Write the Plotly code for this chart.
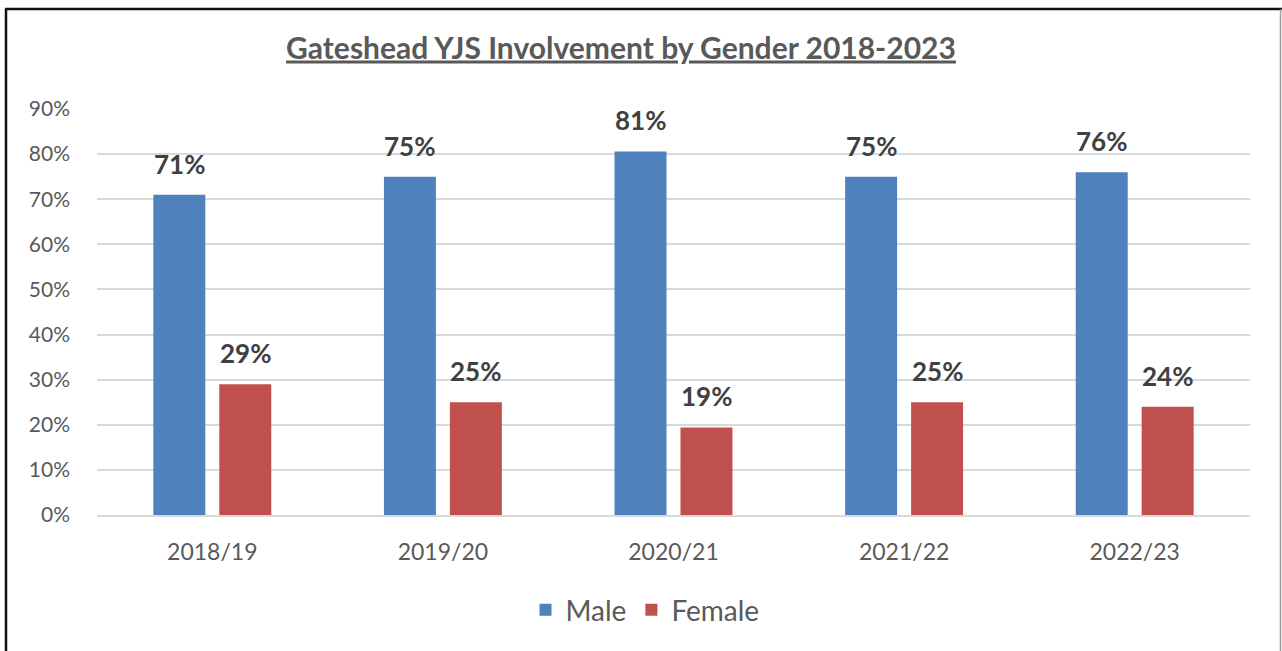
import plotly.graph_objects as go

years = ["2018/19", "2019/20", "2020/21", "2021/22", "2022/23"]
male = [0.71, 0.75, 0.806, 0.75, 0.76]
female = [0.29, 0.25, 0.194, 0.25, 0.24]
male_labels = ["71%", "75%", "81%", "75%", "76%"]
female_labels = ["29%", "25%", "19%", "25%", "24%"]

BLUE = "#4F81BD"
RED = "#C0504D"
FONT = "Lato"
GRAY = "#595959"

W, H = 1282, 651
L, R, T, B = 97, 32, 109, 136
pw, ph = W - L - R, H - T - B

def px(x):
    return (x - L) / pw

def py(y):
    return (H - B - y) / ph

fig = go.Figure()
fig.add_trace(go.Bar(name="Male", x=years, y=male, marker_color=BLUE, marker_line_width=0))
fig.add_trace(go.Bar(name="Female", x=years, y=female, marker_color=RED, marker_line_width=0))

annotations = []
for yr, v, t in zip(years, male, male_labels):
    annotations.append(dict(x=yr, y=v, text="<b>%s</b>" % t, showarrow=False, xshift=-33,
                            yanchor="bottom", yshift=13, font=dict(family=FONT, size=26, color="#404040")))
for yr, v, t in zip(years, female, female_labels):
    annotations.append(dict(x=yr, y=v, text="<b>%s</b>" % t, showarrow=False, xshift=33,
                            yanchor="bottom", yshift=13, font=dict(family=FONT, size=26, color="#404040")))

shapes = [
    dict(type="line", xref="paper", yref="paper", x0=px(6), x1=px(6), y0=py(9), y1=py(700),
         line=dict(color="#111111", width=2.5)),
    dict(type="line", xref="paper", yref="paper", x0=px(5), x1=px(1282), y0=py(9), y1=py(9),
         line=dict(color="#111111", width=2.5)),
    dict(type="line", xref="paper", yref="paper", x0=px(1280.5), x1=px(1280.5), y0=py(9), y1=py(700),
         line=dict(color="#9a9a9a", width=1.5)),
]

fig.update_layout(
    width=W, height=H,
    margin=dict(l=L, r=R, t=T, b=B),
    paper_bgcolor="white", plot_bgcolor="white",
    barmode="group", bargap=0.428, bargroupgap=0.212,
    title=dict(text="<b><u>Gateshead YJS Involvement by Gender 2018-2023</u></b>",
               x=621 / W, xanchor="center", y=1 - 48 / H, yanchor="middle",
               font=dict(family=FONT, size=30, color=GRAY)),
    font=dict(family=FONT, color=GRAY),
    xaxis=dict(showgrid=False, showline=True, linecolor="#d9d9d9", linewidth=2,
               tickfont=dict(size=23, color=GRAY), ticks="", ticklabelstandoff=15),
    yaxis=dict(range=[0, 0.9], dtick=0.1, tickformat=".0%", showgrid=True, gridcolor="#d9d9d9",
               gridwidth=2, zeroline=False, showline=False, ticks="",
               tickfont=dict(size=21, color=GRAY), ticklabelstandoff=26),
    legend=dict(orientation="h", x=px(645), xanchor="center", y=py(610), yanchor="middle",
                font=dict(size=28, color=GRAY), itemwidth=30, traceorder="normal"),
    annotations=annotations,
    shapes=shapes,
)

fig.write_html("out.html", config={"displayModeBar": False},
               post_script="document.body.style.margin='0';document.body.style.padding='0';")
